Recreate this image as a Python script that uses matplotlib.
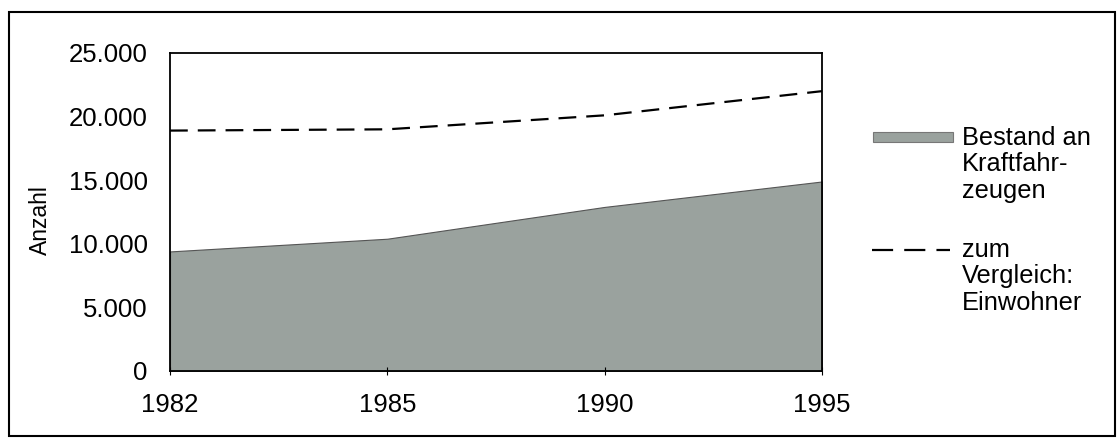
import matplotlib.pyplot as plt
from matplotlib.patches import Rectangle
from matplotlib.lines import Line2D
from matplotlib.ticker import FuncFormatter

years = ["1982", "1985", "1990", "1995"]
fahrzeuge = [9400, 10400, 12900, 14900]
einwohner = [18900, 19000, 20100, 22000]
yticks = [0, 5000, 10000, 15000, 20000, 25000]
legend_labels = ["Bestand an\nKraftfahr-\nzeugen", "zum\nVergleich:\nEinwohner"]

W, H = 1120, 442
plt.rcParams['font.family'] = ['Liberation Sans', 'DejaVu Sans']

fig = plt.figure(figsize=(W / 100, H / 100), dpi=100)


def fx(px):
    return px / W


def fy(py):
    return 1 - py / H


# outer frame around the whole chart
fig.add_artist(Rectangle((fx(9), fy(436)), fx(1115 - 9), (436 - 12) / H,
                         transform=fig.transFigure, fill=False,
                         edgecolor='black', linewidth=1.5))

# axes box in pixels: left 170, right 822, top 53, bottom 371
ax = fig.add_axes([fx(170), fy(371), fx(822 - 170), (371 - 53) / H])

fill_col = '#9aa29e'
dash = (0, (8, 4.5))
x = list(range(len(years)))
ax.fill_between(x, fahrzeuge, color=fill_col, edgecolor='#555555', linewidth=0.8)
ax.plot(x, einwohner, color='black', linestyle=dash, linewidth=1.6)

ax.set_xlim(0, len(years) - 1)
ax.set_ylim(0, 25000)
ax.set_xticks(x)
ax.set_xticklabels(years)
ax.set_yticks(yticks)
ax.yaxis.set_major_formatter(FuncFormatter(lambda v, p: f"{int(v):,}".replace(",", ".")))
ax.tick_params(axis='x', length=6, direction='inout', labelsize=18.5, pad=13)
ax.tick_params(axis='y', length=0, labelsize=18.5, pad=16)
for s in ax.spines.values():
    s.set_linewidth(1.3)

fig.text(fx(40), fy(220), 'Anzahl', rotation=90, ha='center', va='center', fontsize=16.5)

# legend, handles aligned with the first text line
fig.add_artist(Rectangle((fx(873), fy(142)), fx(80), 10 / H, transform=fig.transFigure,
                         facecolor=fill_col, edgecolor='#777777', linewidth=0.8))
fig.add_artist(Line2D([fx(872), fx(950)], [fy(250), fy(250)], transform=fig.transFigure,
                      color='black', linestyle=(0, (9.5, 5)), linewidth=1.6))
for label, top in zip(legend_labels, [126, 238]):
    fig.text(fx(962), fy(top), label, ha='left', va='top', fontsize=18.3, linespacing=1.12)

fig.savefig('out.png', dpi=100)
